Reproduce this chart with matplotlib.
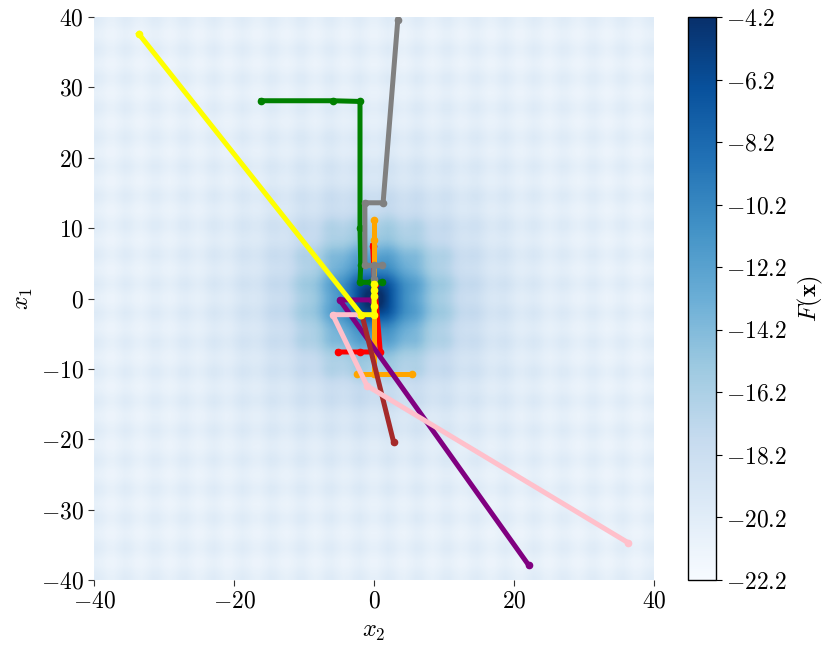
import numpy as np
import matplotlib
matplotlib.use('Agg')
import matplotlib.pyplot as plt
from matplotlib.ticker import FuncFormatter

plt.rcParams['mathtext.fontset'] = 'cm'
plt.rcParams['font.family'] = 'serif'
plt.rcParams['font.serif'] = ['cmr10', 'DejaVu Serif']
plt.rcParams['axes.formatter.use_mathtext'] = True

# background surface: Ackley-type function sampled on a 100x100 grid,
# cosine term averaged over n_dims coordinates (the rest held at 0)
grid_n = 100
lim = 40
ack_a, ack_b, ack_c = 20.0, 0.2, 2 * np.pi
n_dims = 6

# optimiser trajectories, (x2, x1) pairs
traj_red = [(-0.2, 7.5), (0.1, 2.0), (0.9, -7.6), (-2.0, -7.6), (-5.1, -7.6)]
traj_orange = [(0.0, 11.1), (0.0, 8.3), (0.0, -10.7), (-2.5, -10.7), (5.4, -10.7)]
traj_green = [(-16.1, 28.1), (-5.9, 28.1), (-2.0, 28.0), (-2.0, 10.0),
              (-1.9, 4.7), (-2.0, 2.3), (-0.4, 2.3), (1.1, 2.3)]
traj_gray = [(3.4, 39.6), (1.3, 13.6), (-1.3, 13.6), (-1.3, 4.7),
             (1.1, 4.7), (0.0, 4.7), (0.0, 2.8)]
traj_purple = [(22.1, -37.9), (-4.9, -0.2), (-0.3, -0.2)]
traj_brown = [(2.8, -20.4), (-1.7, -2.4)]
traj_pink = [(36.3, -34.7), (-1.0, -12.4), (-5.9, -2.3), (-2.0, -2.3)]
traj_yellow = [(-33.6, 37.6), (-1.8, -2.3), (0.0, -2.3), (0.0, -1.0),
               (0.0, 0.3), (0.0, 1.2), (0.0, 2.1)]

trajs = [(traj_red, 'red'), (traj_orange, 'orange'), (traj_green, 'green'),
         (traj_gray, 'gray'), (traj_purple, 'purple'), (traj_brown, 'brown'),
         (traj_pink, 'pink'), (traj_yellow, 'yellow')]

cb_ticks = [-22.2, -20.2, -18.2, -16.2, -14.2, -12.2, -10.2, -8.2, -6.2, -4.2]

g = np.linspace(-lim, lim, grid_n)
X2, X1 = np.meshgrid(g, g)
r = np.sqrt(0.5 * (X1 ** 2 + X2 ** 2))
cos_mean = (np.cos(ack_c * X1) + np.cos(ack_c * X2) + (n_dims - 2)) / n_dims
ack = -ack_a * np.exp(-ack_b * r) - np.exp(cos_mean) + ack_a + np.e
F = -ack

fig = plt.figure(figsize=(8.3, 6.56), dpi=100)
ax = fig.add_axes([94 / 830, 76 / 656, 560 / 830, 563 / 656])
im = ax.imshow(F, extent=[-lim, lim, -lim, lim], origin='lower', cmap='Blues',
               interpolation='bilinear', vmin=-22.2, vmax=-4.2, aspect='auto')

for pts, col in trajs:
    xs = [p[0] for p in pts]
    ys = [p[1] for p in pts]
    ax.plot(xs, ys, '.-', color=col, lw=3.6, ms=9)

ax.set_xlim(-lim, lim)
ax.set_ylim(-lim, lim)
ax.set_xticks([-40, -20, 0, 20, 40])
ax.set_yticks(np.arange(-40, 41, 10))
fmt = FuncFormatter(lambda v, p: r'$%d$' % v)
ax.xaxis.set_major_formatter(fmt)
ax.yaxis.set_major_formatter(fmt)
for s in ax.spines.values():
    s.set_visible(False)
ax.tick_params(labelsize=17, length=4, color='#333333')
ax.set_xlabel(r'$x_2$', fontsize=17.5, labelpad=6)
ax.set_ylabel(r'$x_1$', fontsize=17.5, labelpad=4)

cax = fig.add_axes([688 / 830, 76 / 656, 28 / 830, 563 / 656])
cb = fig.colorbar(im, cax=cax, ticks=cb_ticks)
cb.ax.yaxis.set_major_formatter(FuncFormatter(lambda v, p: r'$%.1f$' % v))
cb.ax.tick_params(labelsize=17, length=4)
cb.outline.set_linewidth(1.0)
cb.set_label(r'$F(\mathbf{x})$', fontsize=17.5, labelpad=6)

plt.savefig('out.png')
